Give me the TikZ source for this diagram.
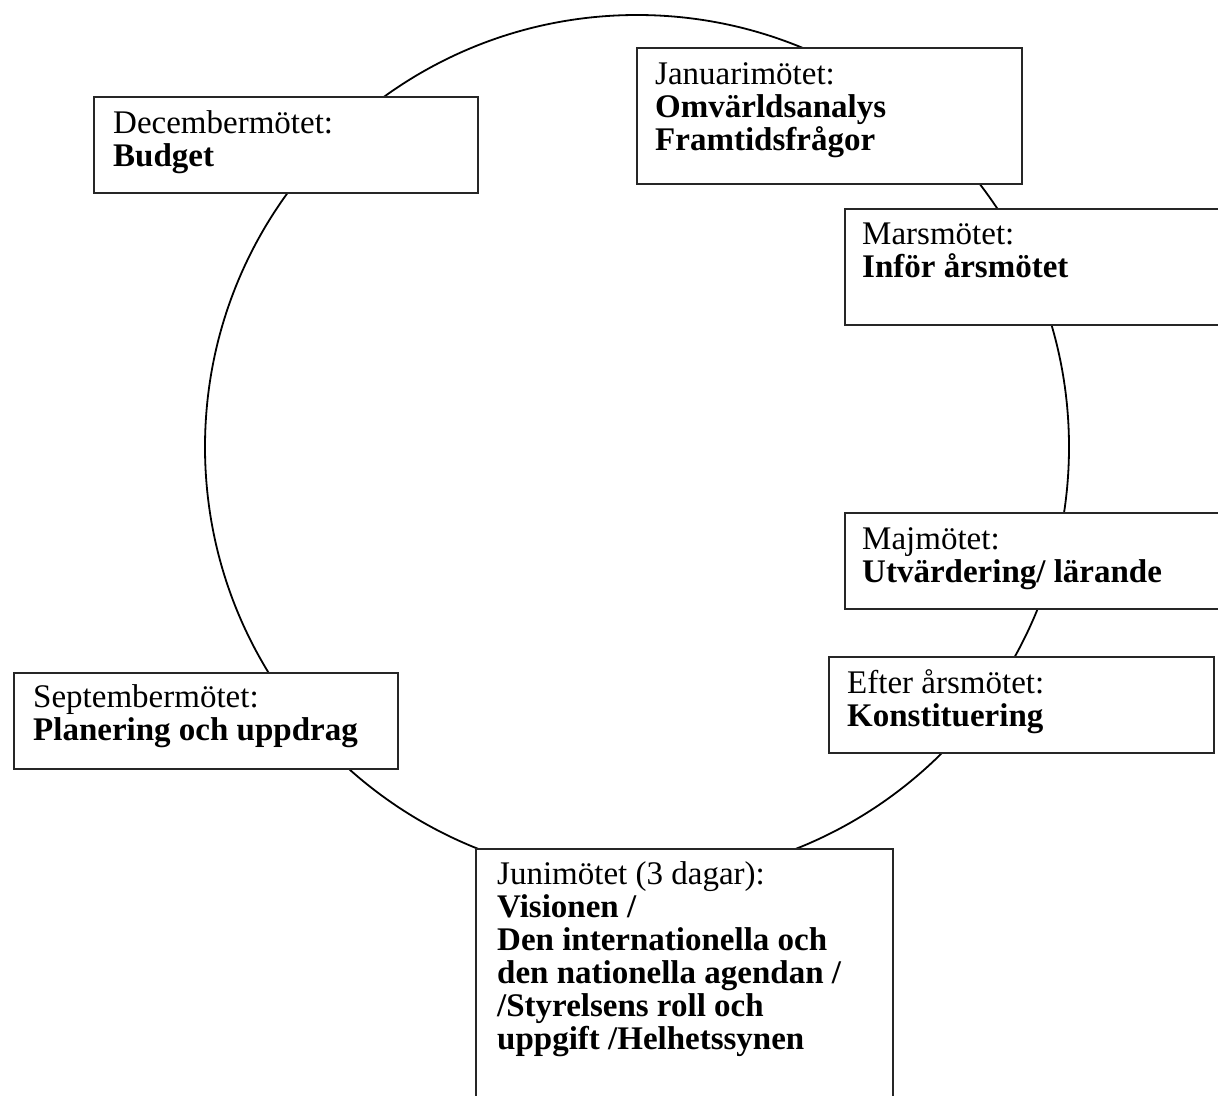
\documentclass[tikz,border=0pt]{standalone}
\usepackage{fontspec}
\setmainfont{Liberation Serif}
\usetikzlibrary{calc}
\begin{document}
\begin{tikzpicture}[x=1pt,y=-1pt,
  mbox/.style={draw=black!85, line width=1.5pt, fill=white, rectangle, inner sep=0pt, anchor=north west},
  mtext/.style={anchor=base west, inner sep=0pt}]
\useasboundingbox (0,0) rectangle (1218,1095);
\clip (0,0) rectangle (1218,1095);
\newcommand{\mtxt}[1]{\parbox[t]{420pt}{\raggedright\fontsize{33}{33}\selectfont #1}}
\draw[line width=1.8pt] (637,447) circle[radius=432];
% boxes
\node[mbox, minimum width=384pt, minimum height=96pt] (dec) at (93,96) {};
\node[mbox, minimum width=385pt, minimum height=136pt] (jan) at (636,47) {};
\node[mbox, minimum width=420pt, minimum height=116pt] (mar) at (844,208) {};
\node[mbox, minimum width=420pt, minimum height=96pt] (maj) at (844,512) {};
\node[mbox, minimum width=385pt, minimum height=96pt] (eft) at (828,656) {};
\node[mbox, minimum width=384pt, minimum height=96pt] (sep) at (13,672) {};
\node[mbox, minimum width=417pt, minimum height=300pt] (jun) at (475,848) {};
% texts
\node[mtext] (dect) at ($(dec.north west)+(20,37)$) {\mtxt{Decembermötet:\\\textbf{Budget}}};
\node[mtext] (jant) at ($(jan.north west)+(19,37)$) {\mtxt{Januarimötet:\\\textbf{Omvärldsanalys}\\\textbf{Framtidsfrågor}}};
\node[mtext] (mart) at ($(mar.north west)+(18,36)$) {\mtxt{Marsmötet:\\\textbf{Inför årsmötet}}};
\node[mtext] (majt) at ($(maj.north west)+(18,37)$) {\mtxt{Majmötet:\\\textbf{Utvärdering/ lärande}}};
\node[mtext] (eftt) at ($(eft.north west)+(19,37)$) {\mtxt{Efter årsmötet:\\\textbf{Konstituering}}};
\node[mtext] (sept) at ($(sep.north west)+(20,35)$) {\mtxt{Septembermötet:\\\textbf{Planering och uppdrag}}};
\node[mtext] (junt) at ($(jun.north west)+(22,36)$) {\mtxt{Junimötet (3 dagar):\\\textbf{Visionen /}\\\textbf{Den internationella och}\\\textbf{den nationella agendan /}\\\textbf{/Styrelsens roll och}\\\textbf{uppgift /Helhetssynen}}};
\end{tikzpicture}
\end{document}
